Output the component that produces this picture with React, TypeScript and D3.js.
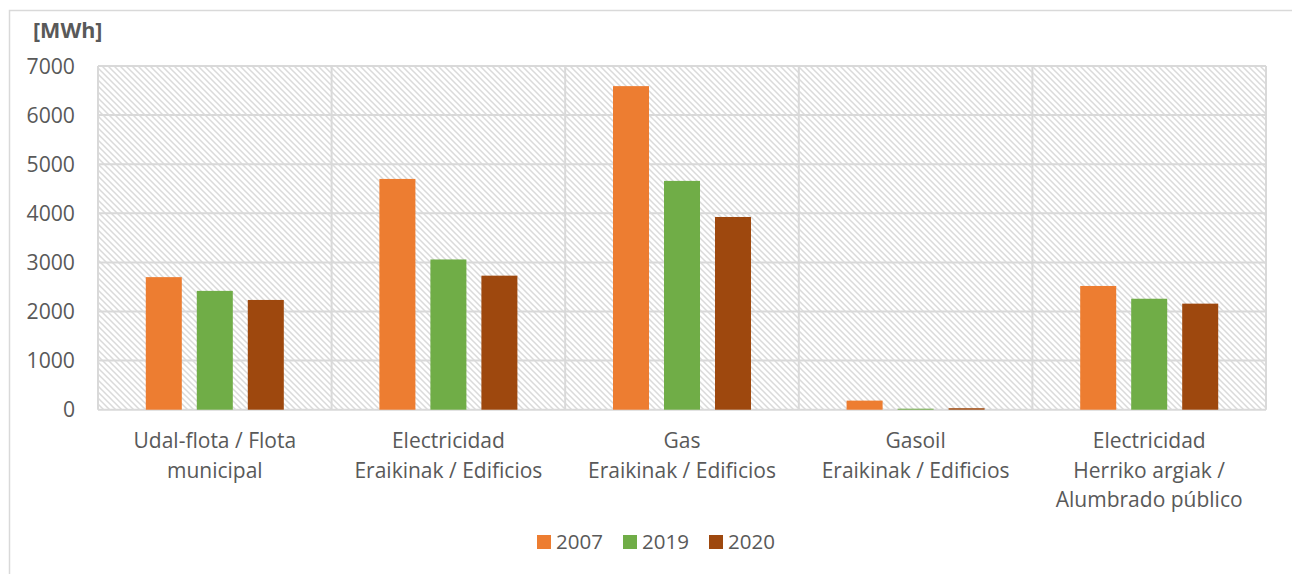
import React from "react";
import * as d3 from "d3";

const categories: string[][] = [
  ["Udal-flota / Flota", "municipal"],
  ["Electricidad", "Eraikinak / Edificios"],
  ["Gas", "Eraikinak / Edificios"],
  ["Gasoil", "Eraikinak / Edificios"],
  ["Electricidad", "Herriko argiak /", "Alumbrado público"],
];
const seriesNames = ["2007", "2019", "2020"];
const values2007 = [2700, 4700, 6590, 185, 2520];
const values2019 = [2420, 3060, 4660, 20, 2260];
const values2020 = [2235, 2730, 3925, 30, 2160];
const seriesValues = [values2007, values2019, values2020];
const seriesColors = ["#ED7D31", "#70AD47", "#9E480E"];
const yTicks = [0, 1000, 2000, 3000, 4000, 5000, 6000, 7000];
const unitLabel = "[MWh]";

const FONT = "'Open Sans', sans-serif";
const TEXT = "#595959";
const GRID = "#d9d9d9";

export default function App() {
  const W = 1292, H = 574;
  const left = 98, right = 1266, top = 66, bottom = 409.7;
  const x0 = d3.scaleBand<number>().domain(d3.range(categories.length)).range([left, right]).padding(0);
  const x1 = d3.scaleBand<number>().domain(d3.range(seriesNames.length)).range([-76.5, 76.5]).paddingInner(0.294).paddingOuter(0.147);
  const y = d3.scaleLinear().domain([0, 7000]).range([bottom, top]);
  const cw = x0.bandwidth();

  const legendX = [537, 623, 709];

  return (
    <svg width={W} height={H} style={{ position: "absolute", left: 0, top: 0, background: "#fff" }}>
      <defs>
        <pattern id="hatch" patternUnits="userSpaceOnUse" width={6} height={6}>
          <rect width={6} height={6} fill="#fff" />
          <path d="M-1,-1 L7,7 M-1,5 L1,7 M5,-1 L7,1" stroke="#dadada" strokeWidth={1.5} />
        </pattern>
      </defs>
      <rect x={9.5} y={10.5} width={W} height={H} fill="none" stroke={GRID} strokeWidth={1.5} />
      <rect x={left} y={top} width={right - left} height={bottom - top} fill="url(#hatch)" />
      {yTicks.map((t) => (
        <line key={"g" + t} x1={left} x2={right} y1={y(t)} y2={y(t)} stroke={GRID} strokeWidth={2} />
      ))}
      {d3.range(categories.length + 1).map((i) => {
        const xx = i < categories.length ? x0(i)! : right;
        return <line key={"v" + i} x1={xx} x2={xx} y1={top} y2={bottom} stroke={GRID} strokeWidth={2} />;
      })}
      {seriesValues.map((vals, s) =>
        vals.map((v, i) => {
          const cx = x0(i)! + cw / 2;
          const bx = cx + x1(s)!;
          return (
            <rect key={s + "-" + i} x={bx} y={y(v)} width={x1.bandwidth()} height={bottom - y(v)} fill={seriesColors[s]} />
          );
        })
      )}
      {yTicks.map((t) => (
        <text key={"t" + t} x={75} y={y(t)} dy="0.36em" textAnchor="end" fontFamily={FONT} fontSize={21.2} fill={TEXT}>
          {t}
        </text>
      ))}
      <text x={33} y={38} fontFamily={FONT} fontSize={21.5} fontWeight="bold" fill={TEXT}>
        {unitLabel}
      </text>
      {categories.map((lines, i) => (
        <text key={"c" + i} textAnchor="middle" fontFamily={FONT} fontSize={21} fill={TEXT}>
          {lines.map((ln, j) => (
            <tspan key={j} x={x0(i)! + cw / 2} y={448 + j * 29.5}>
              {ln}
            </tspan>
          ))}
        </text>
      ))}
      {seriesNames.map((n, s) => (
        <g key={"l" + s} transform={`translate(${legendX[s]},535)`}>
          <rect x={0} y={0} width={14} height={14} fill={seriesColors[s]} />
          <text x={19} y={14} fontFamily={FONT} fontSize={20.5} fill={TEXT}>
            {n}
          </text>
        </g>
      ))}
    </svg>
  );
}
